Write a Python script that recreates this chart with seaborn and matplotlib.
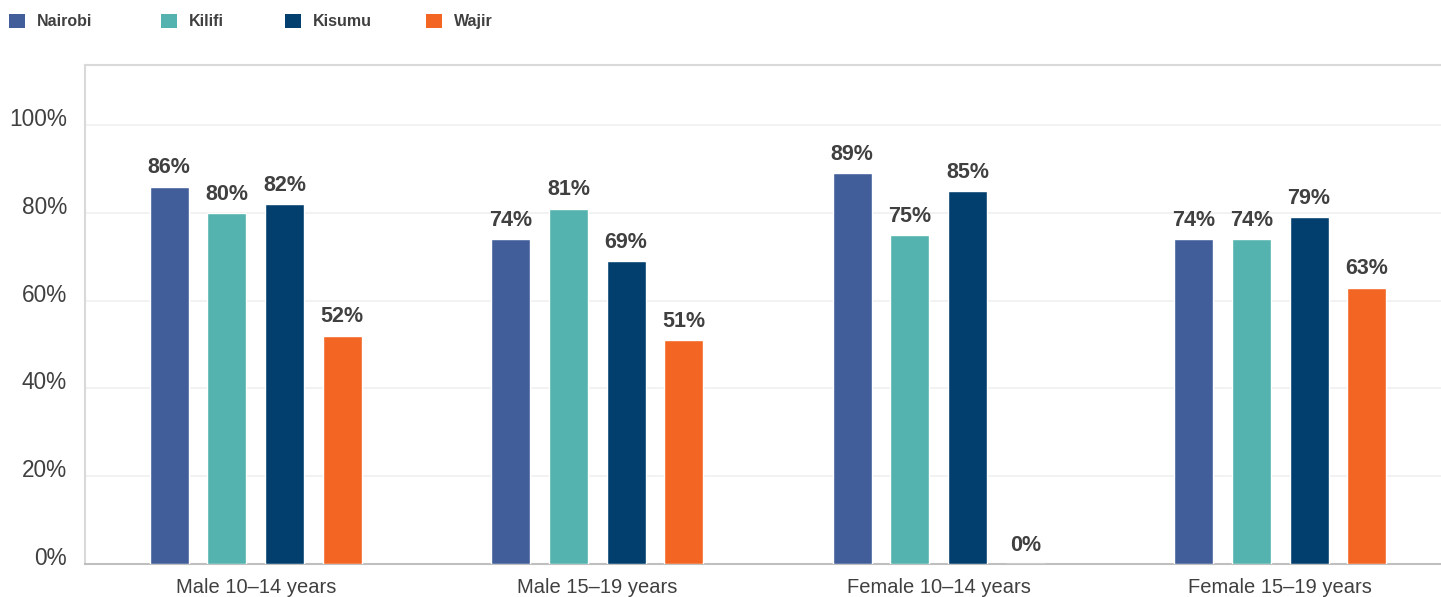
import numpy as np
import pandas as pd
import matplotlib
matplotlib.use("Agg")
import matplotlib.pyplot as plt
import matplotlib.transforms as mtransforms
from matplotlib.patches import Patch
import seaborn as sns

groups = ["Male 10\u201314 years", "Male 15\u201319 years",
          "Female 10\u201314 years", "Female 15\u201319 years"]
counties = ["Nairobi", "Kilifi", "Kisumu", "Wajir"]
nairobi = [86, 74, 89, 74]
kilifi = [80, 81, 75, 74]
kisumu = [82, 69, 85, 79]
wajir = [52, 51, 0, 63]
colors = ["#415E9A", "#54B3AE", "#023F6E", "#F26522"]

series = {"Nairobi": nairobi, "Kilifi": kilifi, "Kisumu": kisumu, "Wajir": wajir}
rows = [(g, c, v) for c in counties for g, v in zip(groups, series[c])]
df = pd.DataFrame(rows, columns=["group", "county", "value"])

sns.set_theme(style="white")
plt.rcParams["font.family"] = ["Liberation Sans", "DejaVu Sans"]
text_color = "#404040"

W, H = 1441, 597
fig = plt.figure(figsize=(W / 100, H / 100), dpi=100)
ax = fig.add_axes([85 / W, 33 / H, (1451 - 85) / W, (564 - 65) / H])

sns.barplot(data=df, x="group", y="value", hue="county", order=groups,
            hue_order=counties, palette=colors, width=0.675, gap=0.325,
            saturation=1, legend=False, ax=ax, zorder=3)

for cont in ax.containers:
    ax.bar_label(cont, fmt="%d%%", padding=6, fontsize=15.5,
                 fontweight="bold", color=text_color)

ax.set_ylim(0, 113.7)
ax.set_xlim(-0.5, 3.5)
ax.set_yticks([0, 20, 40, 60, 80, 100])
ax.set_yticklabels([f"{t}%" for t in [0, 20, 40, 60, 80, 100]])
ax.yaxis.grid(True, color="#f0f0f0", linewidth=1.2, zorder=0)
ax.set_axisbelow(True)
ax.set_xlabel("")
ax.set_ylabel("")
ax.tick_params(axis="y", length=0, pad=13, labelsize=16.3, labelcolor=text_color)
ax.tick_params(axis="x", length=0, pad=10, labelsize=14.5, labelcolor=text_color)

offset = mtransforms.ScaledTranslation(0, 8 / 100, fig.dpi_scale_trans)
for lbl in ax.get_yticklabels():
    lbl.set_transform(lbl.get_transform() + offset)

for side in ["left", "top"]:
    ax.spines[side].set_color("#d9d9d9")
    ax.spines[side].set_linewidth(1.5)
ax.spines["right"].set_visible(False)
ax.spines["bottom"].set_color("#bfbfbf")
ax.spines["bottom"].set_linewidth(1.5)

# one legend entry per county, laid out along the top edge
legend_x = [9, 161, 285, 426]
for name, col, lx in zip(counties, colors, legend_x):
    leg = fig.legend(handles=[Patch(facecolor=col, edgecolor="none", label=name)],
                     loc="center left", bbox_to_anchor=(lx / W, 1 - 21.5 / H),
                     frameon=False, handlelength=1.0, handleheight=1.0,
                     handletextpad=0.75, borderpad=0, borderaxespad=0,
                     prop={"size": 11.5, "weight": "bold"})
    for t in leg.get_texts():
        t.set_color(text_color)

fig.savefig("out.png", dpi=100)
